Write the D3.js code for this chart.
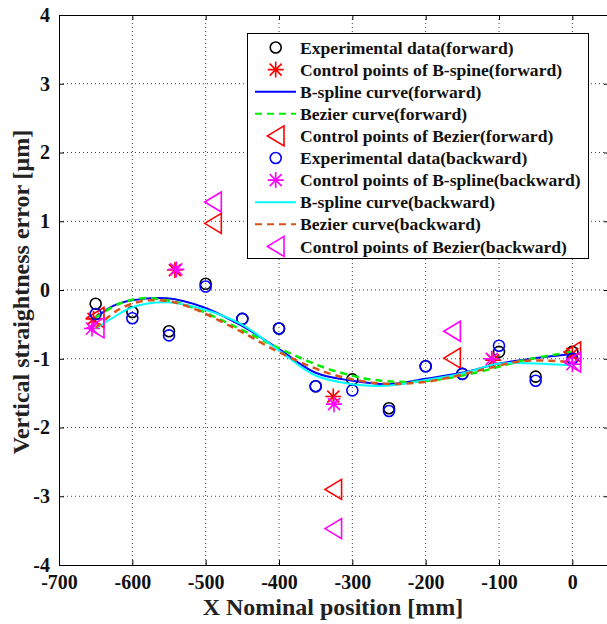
<!DOCTYPE html>
<html><head><meta charset="utf-8">
<script src="https://cdn.jsdelivr.net/npm/d3@7"></script>
<style>
html,body{margin:0;padding:0;background:#fff;}
svg{display:block;}
text{font-family:"Liberation Serif","Times New Roman",serif;font-weight:bold;}
</style></head>
<body>
<svg id="chart" width="607" height="624"></svg>
<script>
// ---------- data ----------
const xTicks = [-700, -600, -500, -400, -300, -200, -100, 0];
const yTicks = [-4, -3, -2, -1, 0, 1, 2, 3, 4];

const expX = [-650, -600, -550, -500, -450, -400, -350, -300, -250, -200, -150, -100, -50, 0];
const expForward = [-0.20, -0.32, -0.60, 0.09, -0.42, -0.56, -1.40, -1.30, -1.72, -1.11, -1.22, -0.90, -1.26, -0.90];
const expBackward = [-0.35, -0.41, -0.66, 0.05, -0.42, -0.56, -1.40, -1.46, -1.76, -1.11, -1.22, -0.81, -1.32, -1.00];

const cpBsForwardX = [-653, -542, -326, -108, 0];
const cpBsForwardY = [-0.42, 0.29, -1.55, -1.02, -0.93];
const cpBsBackwardX = [-655, -540, -325, -110, 0];
const cpBsBackwardY = [-0.56, 0.30, -1.66, -1.00, -1.08];

const cpBzX = [-650, -490, -326, -164, 0];
const cpBzForwardY = [-0.40, 0.97, -2.90, -0.99, -0.90];
const cpBzBackwardY = [-0.55, 1.28, -3.47, -0.60, -1.05];

const bsX = [-650, -626, -600, -553, -503, -451, -400, -351, -300, -249, -200, -149, -100, -50, 0];
const bsForward = [-0.40, -0.23, -0.15, -0.12, -0.25, -0.52, -0.86, -1.20, -1.32, -1.37, -1.29, -1.20, -1.07, -0.99, -0.93];
const bsBackward = [-0.56, -0.40, -0.25, -0.18, -0.28, -0.50, -0.88, -1.24, -1.37, -1.39, -1.31, -1.21, -1.07, -1.07, -1.10];

const bzX = [-650, -617.9, -585.8, -553.6, -521.2, -456.4, -391.4, -326.4, -261.3, -196.1, -130.8, -65.5, 0];
const bzForward = [-0.40, -0.20, -0.12, -0.15, -0.24, -0.55, -0.89, -1.17, -1.32, -1.32, -1.20, -1.02, -0.90];
const bzBackward = [-0.55, -0.28, -0.16, -0.16, -0.25, -0.58, -0.95, -1.23, -1.36, -1.33, -1.18, -1.03, -1.05];

const legendLabels = [
  "Experimental data(forward)",
  "Control points of B-spine(forward)",
  "B-spline curve(forward)",
  "Bezier curve(forward)",
  "Control points of Bezier(forward)",
  "Experimental data(backward)",
  "Control points of B-spline(backward)",
  "B-spline curve(backward)",
  "Bezier curve(backward)",
  "Control points of Bezier(backward)"
];

// ---------- setup ----------
const svg = d3.select("#chart");
const x = d3.scaleLinear().domain([-700, 50]).range([59, 609]);
const y = d3.scaleLinear().domain([-4, 4]).range([565, 15]);
const L = 59, R = 609, T = 15, B = 565;
const fmt = d => String(d);

// grid
const grid = svg.append("g");
xTicks.filter(v => v !== -700).forEach(v => {
  grid.append("line").attr("x1", x(v)).attr("x2", x(v)).attr("y1", T).attr("y2", B)
    .attr("stroke", "#444").attr("stroke-width", 1).attr("stroke-dasharray", "1,3");
});
yTicks.filter(v => v !== -4 && v !== 4).forEach(v => {
  grid.append("line").attr("x1", L).attr("x2", R).attr("y1", y(v)).attr("y2", y(v))
    .attr("stroke", "#444").attr("stroke-width", 1).attr("stroke-dasharray", "1,3");
});

// axes
const axB = d3.axisBottom(x).tickValues(xTicks).tickSizeInner(-5).tickSizeOuter(0).tickPadding(10).tickFormat(fmt);
const axL = d3.axisLeft(y).tickValues(yTicks).tickSizeInner(-5).tickSizeOuter(0).tickPadding(9).tickFormat(fmt);
const axT = d3.axisTop(x).tickValues(xTicks).tickSizeInner(-5).tickSizeOuter(0).tickFormat("");
const axR = d3.axisRight(y).tickValues(yTicks).tickSizeInner(-5).tickSizeOuter(0).tickFormat("");

function styleAxis(g){
  g.select(".domain").attr("stroke", "#000").attr("stroke-width", 1);
  g.selectAll(".tick line").attr("stroke", "#000");
  g.selectAll(".tick text").attr("fill", "#111").style("font-size", "20px")
    .style("font-family", "'Liberation Serif','Times New Roman',serif").style("font-weight", "bold");
}
svg.append("g").attr("transform", `translate(0,${B})`).call(axB).call(styleAxis);
svg.append("g").attr("transform", `translate(${L},0)`).call(axL).call(styleAxis);
svg.append("g").attr("transform", `translate(0,${T})`).call(axT).call(styleAxis);
svg.append("g").attr("transform", `translate(${R},0)`).call(axR).call(styleAxis);

// axis labels
svg.append("text").attr("x", 333).attr("y", 615).attr("text-anchor", "middle")
  .style("font-size", "24px").attr("fill", "#222").text("X Nominal position [mm]");
svg.append("text").attr("transform", "translate(29,292) rotate(-90)").attr("text-anchor", "middle")
  .style("font-size", "24px").attr("fill", "#222").text("Vertical straightness error [μm]");

// ---------- marker helpers ----------
function circleMark(g, cx, cy, color){
  g.append("circle").attr("cx", cx).attr("cy", cy).attr("r", 5.5)
    .attr("fill", "none").attr("stroke", color).attr("stroke-width", 1.6);
}
function starMark(g, cx, cy, color){
  const s = 8, d = 6;
  const p = `M${cx-s},${cy}L${cx+s},${cy}M${cx},${cy-s}L${cx},${cy+s}` +
            `M${cx-d},${cy-d}L${cx+d},${cy+d}M${cx-d},${cy+d}L${cx+d},${cy-d}`;
  g.append("path").attr("d", p).attr("stroke", color).attr("stroke-width", 1.6).attr("fill", "none");
}
function triMark(g, cx, cy, color){
  const w = 8.3, h = 10;
  g.append("path").attr("d", `M${cx-w},${cy}L${cx+w},${cy-h}L${cx+w},${cy+h}Z`)
    .attr("fill", "none").attr("stroke", color).attr("stroke-width", 1.6);
}

const line = d3.line().x(d => x(d[0])).y(d => y(d[1])).curve(d3.curveCatmullRom.alpha(0.5));
const plot = svg.append("g");

function drawLine(xs, ys, color, dash, w){
  plot.append("path").attr("d", line(xs.map((v, i) => [v, ys[i]])))
    .attr("fill", "none").attr("stroke", color).attr("stroke-width", w)
    .attr("stroke-dasharray", dash);
}

// plotting order
expX.forEach((v, i) => circleMark(plot, x(v), y(expForward[i]), "#000"));
cpBsForwardX.forEach((v, i) => starMark(plot, x(v), y(cpBsForwardY[i]), "#ff0000"));
drawLine(bsX, bsForward, "#0000ff", null, 2);
drawLine(bzX, bzForward, "#00ee00", "7,5", 2.5);
cpBzX.forEach((v, i) => triMark(plot, x(v), y(cpBzForwardY[i]), "#ff0000"));
expX.forEach((v, i) => circleMark(plot, x(v), y(expBackward[i]), "#0000ff"));
cpBsBackwardX.forEach((v, i) => starMark(plot, x(v), y(cpBsBackwardY[i]), "#ff00ff"));
drawLine(bsX, bsBackward, "#00ffff", null, 2);
drawLine(bzX, bzBackward, "#d95319", "7,5", 2.5);
cpBzX.forEach((v, i) => triMark(plot, x(v), y(cpBzBackwardY[i]), "#ff00ff"));

// ---------- legend ----------
const lg = svg.append("g");
lg.append("rect").attr("x", 247.5).attr("y", 33.5).attr("width", 341).attr("height", 225)
  .attr("fill", "#fff").attr("stroke", "#000").attr("stroke-width", 1);
const kinds = [
  ["circle", "#000"], ["star", "#ff0000"], ["line", "#0000ff"], ["dash", "#00ee00"], ["tri", "#ff0000"],
  ["circle", "#0000ff"], ["star", "#ff00ff"], ["line", "#00ffff"], ["dash", "#d95319"], ["tri", "#ff00ff"]
];
legendLabels.forEach((lab, i) => {
  const cy = 47.5 + i * 22.1;
  const [k, c] = kinds[i];
  if (k === "circle") circleMark(lg, 275.7, cy, c);
  else if (k === "star") starMark(lg, 275.7, cy, c);
  else if (k === "tri") triMark(lg, 275.7, cy, c);
  else lg.append("line").attr("x1", 255).attr("x2", 296).attr("y1", cy).attr("y2", cy)
    .attr("stroke", c).attr("stroke-width", 2).attr("stroke-dasharray", k === "dash" ? "7,5" : null);
  lg.append("text").attr("x", 300).attr("y", cy).attr("dy", "0.35em")
    .style("font-size", "17.6px").attr("fill", "#111").text(lab);
});
</script>
</body></html>
